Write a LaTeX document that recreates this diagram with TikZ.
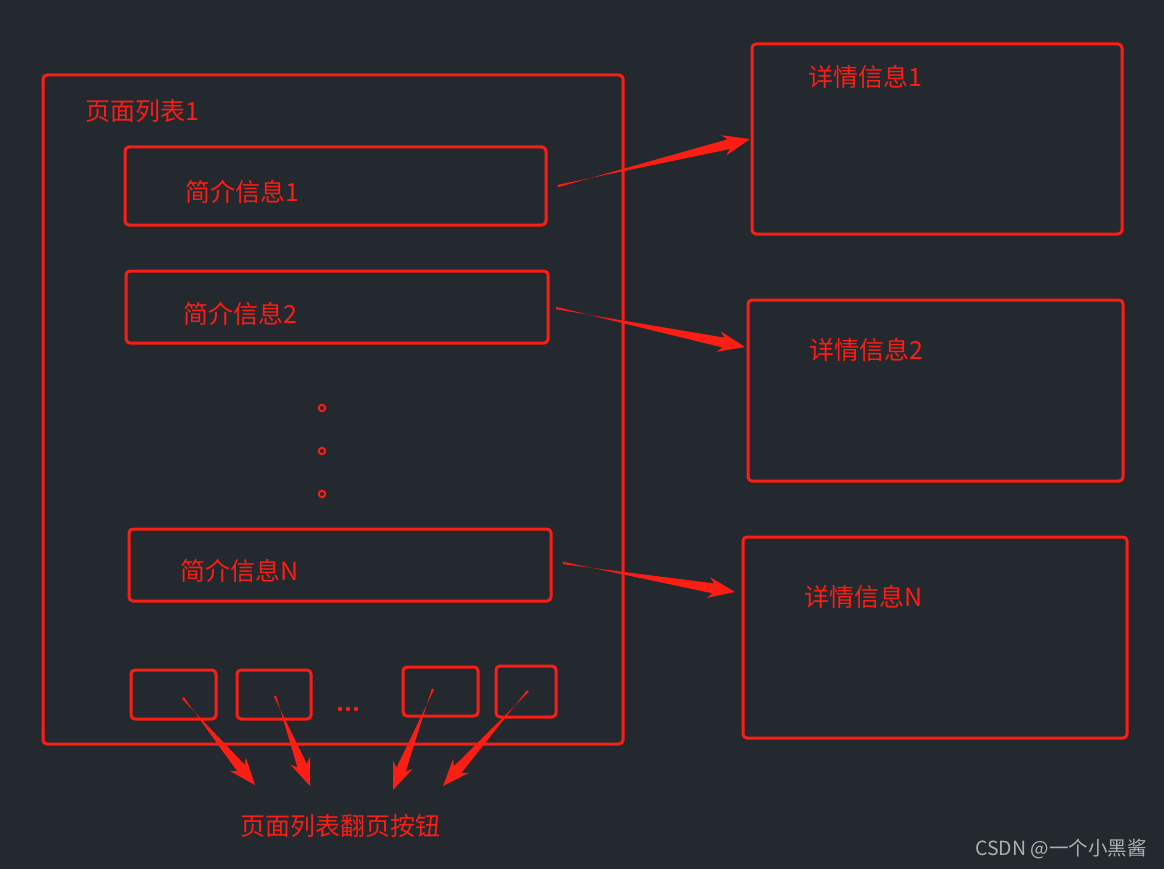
\documentclass[tikz,border=0pt]{standalone}
\usepackage{fontspec}
\setmainfont{Noto Sans CJK SC}
\usetikzlibrary{calc}
\definecolor{bg}{RGB}{36,40,47}
\definecolor{rd}{RGB}{250,30,20}
\definecolor{wm}{RGB}{175,175,175}
\tikzset{
  box/.style={draw=rd, line width=3pt, rounded corners=4pt},
  lbl/.style={text=rd, anchor=west, inner sep=0pt, font=\fontsize{25}{25}\selectfont},
  ring/.style={draw=rd, line width=2pt},
}
\newcommand{\wedgearrow}[2]{%
  \coordinate (hbA) at ($(#2)!22pt!(#1)$);
  \coordinate (hbB) at ($(#2)!27pt!(#1)$);
  \fill[rd] ($(#1)!1.2pt!90:(#2)$) -- ($(hbA)!5pt!-90:(#2)$) -- ($(hbB)!10.5pt!-90:(#2)$)
    -- (#2) -- ($(hbB)!10.5pt!90:(#2)$) -- ($(hbA)!5pt!90:(#2)$) -- ($(#1)!1.2pt!-90:(#2)$) -- cycle;
}
\begin{document}
\begin{tikzpicture}[x=1pt,y=-1pt]
\fill[bg] (0,0) rectangle (1164,869);
\useasboundingbox (0,0) rectangle (1164,869);
% outer list page
\draw[box] (43,75) rectangle (623,744);
\node[lbl] (title) at (85,111) {页面列表1};
% summary boxes
\draw[box] (125,147) rectangle (546,225);
\node[lbl] (s1) at (185,192) {简介信息1};
\draw[box] (126,271) rectangle (548,343);
\node[lbl] (s2) at (183,314) {简介信息2};
\draw[box] (129,529) rectangle (551,601);
\node[lbl] (sn) at (180,571) {简介信息N};
% vertical dots
\draw[ring] (322,408) circle (3.2);
\draw[ring] (322,451) circle (3.2);
\draw[ring] (322,494) circle (3.2);
% page buttons
\draw[box] (131,670) rectangle (216,719);
\draw[box] (237,670) rectangle (311,719);
\draw[box] (403,667) rectangle (478,716);
\draw[box] (496,666) rectangle (556,717);
\fill[rd] (340,709) circle (2.2) (348,709) circle (2.2) (356,709) circle (2.2);
% detail boxes
\draw[box] (752,44) rectangle (1122,234);
\node[lbl] (d1) at (808,77) {详情信息1};
\draw[box] (748,300) rectangle (1123,481);
\node[lbl] (d2) at (809,350) {详情信息2};
\draw[box] (743,537) rectangle (1127,738);
\node[lbl] (dn) at (804,597) {详情信息N};
% bottom label
\node[lbl, anchor=center] (btn) at (340,826) {页面列表翻页按钮};
% arrow coordinates
\coordinate (a1s) at (558,186); \coordinate (a1t) at (750,139);
\coordinate (a2s) at (556,308); \coordinate (a2t) at (745,347);
\coordinate (a3s) at (563,563); \coordinate (a3t) at (735,592);
\coordinate (b1s) at (183,698); \coordinate (b1t) at (255,785);
\coordinate (b2s) at (275,696); \coordinate (b2t) at (310,786);
\coordinate (b3s) at (433,689); \coordinate (b3t) at (393,790);
\coordinate (b4s) at (528,691); \coordinate (b4t) at (443,786);
\wedgearrow{a1s}{a1t}
\wedgearrow{a2s}{a2t}
\wedgearrow{a3s}{a3t}
\wedgearrow{b1s}{b1t}
\wedgearrow{b2s}{b2t}
\wedgearrow{b3s}{b3t}
\wedgearrow{b4s}{b4t}
% watermark
\node[text=wm, anchor=east, inner sep=0pt, font=\fontsize{19.5}{19.5}\selectfont] (wmk) at (1147,849) {CSDN @一个小黑酱};
\end{tikzpicture}
\end{document}
